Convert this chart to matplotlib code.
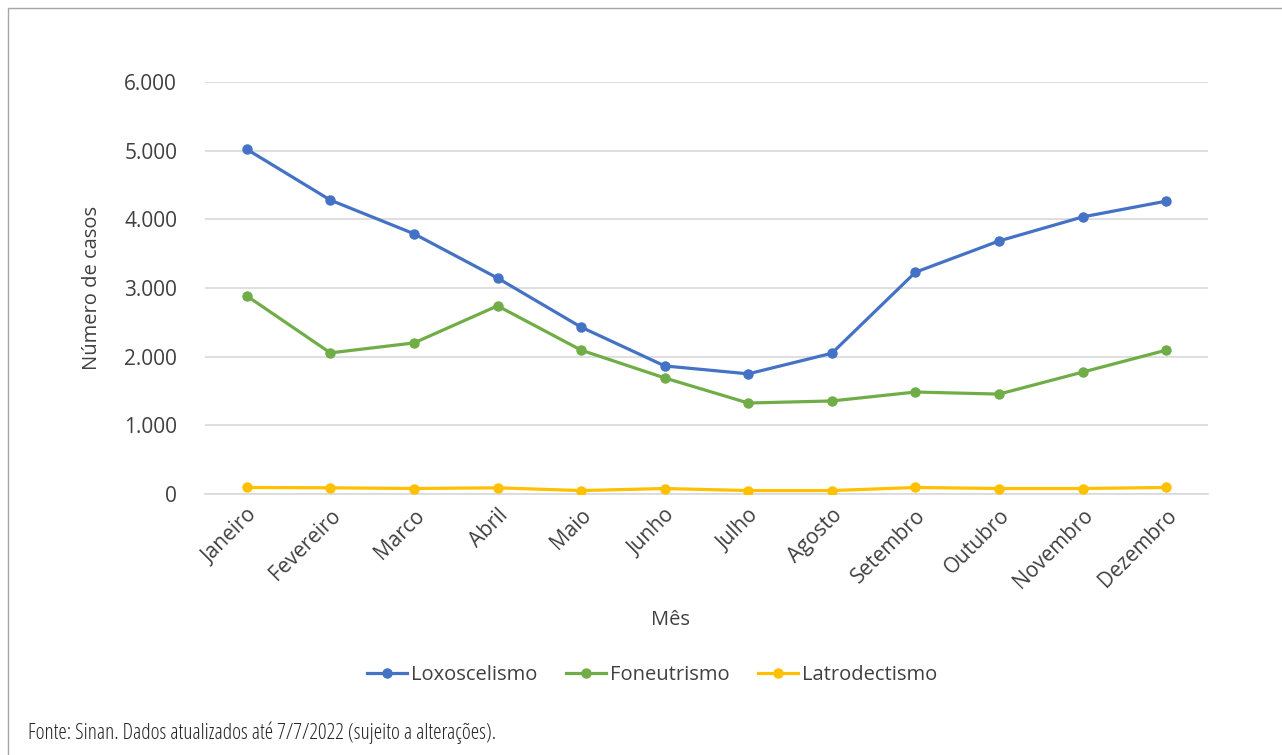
import matplotlib.pyplot as plt
from matplotlib.patches import Rectangle
from matplotlib.ticker import FuncFormatter

# Dados
meses = ["Janeiro", "Fevereiro", "Marco", "Abril", "Maio", "Junho",
         "Julho", "Agosto", "Setembro", "Outubro", "Novembro", "Dezembro"]
loxoscelismo = [5020, 4280, 3790, 3145, 2430, 1865, 1750, 2050, 3230, 3685, 4035, 4265]
foneutrismo = [2885, 2055, 2200, 2740, 2095, 1690, 1325, 1355, 1485, 1455, 1775, 2095]
latrodectismo = [95, 90, 80, 90, 50, 80, 50, 50, 95, 80, 80, 95]

plt.rcParams['font.family'] = ['Open Sans', 'DejaVu Sans']
cor_texto = "#404040"

fig = plt.figure(figsize=(12.82, 7.55), dpi=100)
ax = fig.add_axes([205 / 1282, 1 - 494 / 755, (1208 - 205) / 1282, (494 - 82) / 755])

x = range(len(meses))
series = [
    (loxoscelismo, "Loxoscelismo", "#4472C4"),
    (foneutrismo, "Foneutrismo", "#70AD47"),
    (latrodectismo, "Latrodectismo", "#FFC000"),
]
for valores, nome, cor in series:
    ax.plot(x, valores, color=cor, lw=2.3, marker="o", ms=6.5, label=nome, zorder=3)

ax.set_xlim(-0.5, len(meses) - 0.5)
ax.set_ylim(0, 6000)
ax.set_yticks(range(0, 6001, 1000))
ax.yaxis.set_major_formatter(FuncFormatter(lambda v, p: f"{int(v):,}".replace(",", ".")))
ax.grid(axis="y", color="#D9D9D9", lw=1.2)
ax.set_axisbelow(True)
for s in ax.spines.values():
    s.set_visible(False)
ax.spines["bottom"].set_visible(True)
ax.spines["bottom"].set_color("#D9D9D9")
ax.spines["bottom"].set_linewidth(1.2)
ax.tick_params(length=0, labelsize=15, colors=cor_texto, pad=20)
ax.set_xticks(list(x))
ax.set_xticklabels(meses, rotation=45, ha="right", rotation_mode="anchor")
ax.tick_params(axis="x", pad=8)

ax.set_ylabel("Número de casos", fontsize=14.5, color=cor_texto, labelpad=16)
fig.text(670 / 1282, 1 - 620 / 755, "Mês", fontsize=14.5, color=cor_texto, ha="center", va="center")

fig.legend(loc="center", bbox_to_anchor=(652 / 1282, 1 - 675 / 755), ncol=3, frameon=False,
           fontsize=14.5, handlelength=2.0, handletextpad=0.2, columnspacing=1.4,
           labelcolor=cor_texto)

fig.text(28 / 1282, 1 - 733 / 755, "Fonte: Sinan. Dados atualizados até 7/7/2022 (sujeito a alterações).",
         fontsize=15.5, color="#262626", ha="left", va="center",
         family=['Open Sans', 'DejaVu Sans'], fontstretch="condensed")

fig.patches.append(Rectangle((8 / 1282, -0.01), 1.1, 1 - 8 / 755 + 0.01, transform=fig.transFigure,
                             fill=False, edgecolor="#A6A6A6", lw=1.0))

fig.savefig("out.png", dpi=100)
